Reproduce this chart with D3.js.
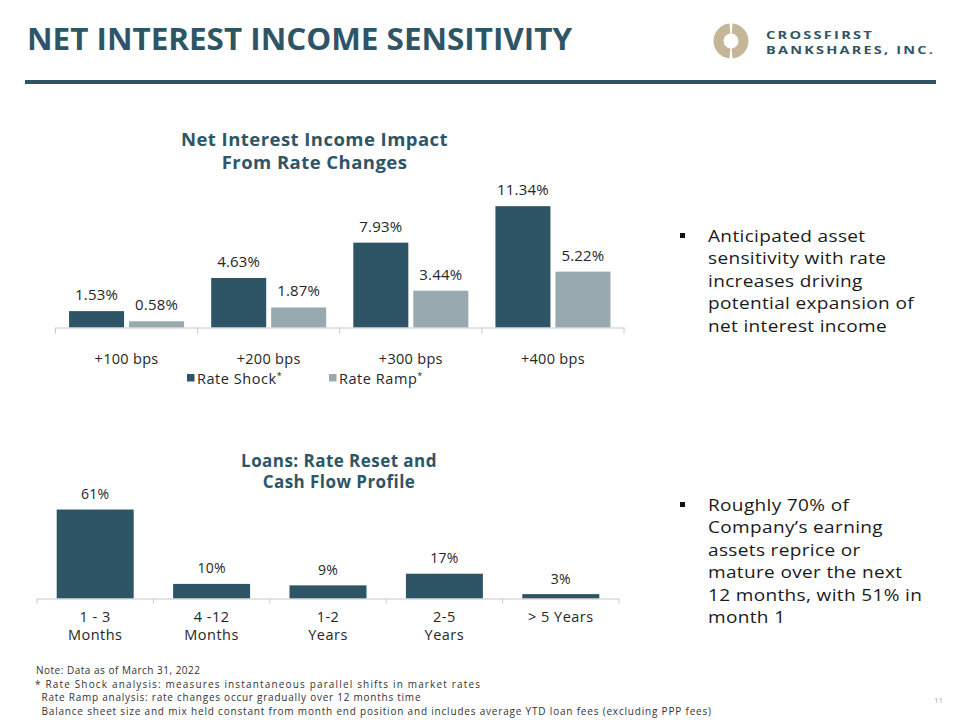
<!DOCTYPE html>
<html>
<head>
<meta charset="utf-8">
<script src="https://cdn.jsdelivr.net/npm/d3@7"></script>
<style>
  html, body { margin: 0; padding: 0; background: #ffffff; }
  svg { display: block; }
  text { font-family: "Open Sans", "Noto Sans", sans-serif; }
</style>
</head>
<body>
<div id="chart"></div>
<script>
// ---------- DATA ----------
const rateCategories = ["+100 bps", "+200 bps", "+300 bps", "+400 bps"];
const seriesNames = ["Rate Shock", "Rate Ramp"];
const rateShock = [1.53, 4.63, 7.93, 11.34];
const rateRamp = [0.58, 1.87, 3.44, 5.22];

const loanCategories = ["1 - 3\nMonths", "4 -12\nMonths", "1-2\nYears", "2-5\nYears", "> 5 Years"];
const loanValues = [61, 10, 9, 17, 3];

const pageTitle = "NET INTEREST INCOME SENSITIVITY";
const chart1Title = ["Net Interest Income Impact", "From Rate Changes"];
const chart2Title = ["Loans: Rate Reset and", "Cash Flow Profile"];
const bullet1 = ["Anticipated asset", "sensitivity with rate", "increases driving", "potential expansion of", "net interest income"];
const bullet2 = ["Roughly 70% of", "Company\u2019s earning", "assets reprice or", "mature over the next", "12 months, with 51% in", "month 1"];
const footnotes = [
  "Note: Data as of March 31, 2022",
  "* Rate Shock analysis: measures instantaneous parallel shifts in market rates",
  "Rate Ramp analysis: rate changes occur gradually over 12 months time",
  "Balance sheet size and mix held constant from month end position and includes average YTD loan fees (excluding PPP fees)"
];

// ---------- STYLE / LAYOUT ----------
const TEAL = "#2e5565";
const GRAY = "#98a9b0";
const TAN = "#c6b698";
const AXIS = "#c8c8c8";
const TXT = "#262626";
const footX = [36, 35, 41.5, 41.5];
const footEnd = [200, 480, 420.5, 711];

const svg = d3.select("#chart").append("svg")
  .attr("width", 960).attr("height", 720);
svg.append("rect").attr("width", 960).attr("height", 720).attr("fill", "#fff");

// ---------- HEADER ----------
svg.append("text")
  .attr("x", 27).attr("y", 49.5)
  .attr("font-size", 30).attr("font-weight", 700)
  .attr("fill", TEAL)
  .attr("textLength", 545).attr("lengthAdjust", "spacingAndGlyphs")
  .text(pageTitle);

svg.append("rect").attr("x", 25).attr("y", 80).attr("width", 911).attr("height", 4).attr("fill", TEAL);

// logo
const logoArc = d3.arc().innerRadius(7.5).outerRadius(17.5);
const logo = svg.append("g").attr("transform", "translate(731,41)");
logo.append("path").attr("d", logoArc({startAngle: 0.09, endAngle: Math.PI - 0.09})).attr("fill", TAN);
logo.append("path").attr("d", logoArc({startAngle: Math.PI + 0.09, endAngle: 2 * Math.PI - 0.09})).attr("fill", TAN);

svg.append("text").attr("x", 766).attr("y", 38.5)
  .attr("font-size", 10.5).attr("font-weight", 700).attr("fill", TEAL)
  .attr("letter-spacing", 1.6)
  .attr("textLength", 108).attr("lengthAdjust", "spacingAndGlyphs")
  .text("CROSSFIRST");
svg.append("text").attr("x", 766).attr("y", 53.5)
  .attr("font-size", 10.5).attr("font-weight", 700).attr("fill", TEAL)
  .attr("letter-spacing", 1.6)
  .attr("textLength", 169).attr("lengthAdjust", "spacingAndGlyphs")
  .text("BANKSHARES, INC.");

// ---------- CHART 1 ----------
const c1 = { left: 55.5, right: 624, base: 327.5 };
const x0 = d3.scaleBand().domain(rateCategories).range([c1.left, c1.right]).padding(0);
const x1 = d3.scaleBand().domain(seriesNames).range([0, x0.bandwidth()])
  .paddingInner(0.083).paddingOuter(0.226);
const y1 = d3.scaleLinear().domain([0, 12]).range([c1.base, c1.base - 128.4]);
const color1 = d3.scaleOrdinal().domain(seriesNames).range([TEAL, GRAY]);

const rows1 = rateCategories.map((c, i) => ({ cat: c, vals: [
  { s: seriesNames[0], v: rateShock[i] },
  { s: seriesNames[1], v: rateRamp[i] } ] }));

const g1 = svg.append("g");
const grp = g1.selectAll("g.grp").data(rows1).enter().append("g")
  .attr("transform", d => `translate(${x0(d.cat)},0)`);
grp.selectAll("rect").data(d => d.vals).enter().append("rect")
  .attr("x", d => x1(d.s)).attr("width", x1.bandwidth())
  .attr("y", d => y1(d.v)).attr("height", d => y1(0) - y1(d.v))
  .attr("fill", d => color1(d.s));
grp.selectAll("text.val").data(d => d.vals).enter().append("text")
  .attr("class", "val")
  .attr("x", d => x1(d.s) + x1.bandwidth() / 2)
  .attr("y", d => y1(d.v) - 11)
  .attr("text-anchor", "middle").attr("font-size", 15).attr("letter-spacing", 0.2).attr("fill", TXT)
  .text(d => d3.format(".2f")(d.v) + "%");

// axis line and category separator ticks
g1.append("line").attr("x1", c1.left).attr("x2", c1.right)
  .attr("y1", y1(0) + 0.5).attr("y2", y1(0) + 0.5).attr("stroke", AXIS);
const seps1 = rateCategories.map(c => x0(c)).concat([x0(rateCategories[rateCategories.length - 1]) + x0.bandwidth()]);
g1.selectAll("line.tk").data(seps1).enter().append("line")
  .attr("x1", d => d).attr("x2", d => d)
  .attr("y1", y1(0)).attr("y2", y1(0) + 6).attr("stroke", AXIS);
g1.selectAll("text.cat").data(rateCategories).enter().append("text")
  .attr("x", d => x0(d) + x0.bandwidth() / 2).attr("y", 363.5)
  .attr("text-anchor", "middle").attr("font-size", 14.5).attr("letter-spacing", 0.3).attr("fill", TXT)
  .text(d => d);

// title
g1.selectAll("text.ttl").data(chart1Title).enter().append("text")
  .attr("x", 314.5).attr("y", (d, i) => 146 + i * 23)
  .attr("text-anchor", "middle").attr("font-size", 18.5).attr("font-weight", 700)
  .attr("letter-spacing", 0.45)
  .attr("fill", TEAL).text(d => d);

// legend
const legX = [187, 329];
const leg = g1.selectAll("g.leg").data(seriesNames).enter().append("g")
  .attr("transform", (d, i) => `translate(${legX[i]},374)`);
leg.append("rect").attr("width", 7.5).attr("height", 7.5).attr("fill", d => color1(d));
const lt = leg.append("text").attr("x", 10).attr("y", 9.5).attr("font-size", 14.5)
  .attr("letter-spacing", 0.55).attr("fill", TXT);
lt.append("tspan").text(d => d);
lt.append("tspan").attr("dy", -5).attr("font-size", 9).text("*");

// ---------- CHART 2 ----------
const c2 = { left: 37, right: 619, base: 598.5 };
const xb = d3.scaleBand().domain(loanCategories).range([c2.left, c2.right]).padding(0);
const xbIn = d3.scaleBand().domain(["v"]).range([0, xb.bandwidth()]).paddingOuter(0.256);
const y2 = d3.scaleLinear().domain([0, 70]).range([c2.base, c2.base - 102.1]);

const g2 = svg.append("g");
g2.selectAll("rect").data(loanCategories).enter().append("rect")
  .attr("x", (d) => xb(d) + xbIn("v")).attr("width", xbIn.bandwidth())
  .attr("y", (d, i) => y2(loanValues[i])).attr("height", (d, i) => y2(0) - y2(loanValues[i]))
  .attr("fill", TEAL);
g2.selectAll("text.val").data(loanCategories).enter().append("text")
  .attr("x", d => xb(d) + xb.bandwidth() / 2)
  .attr("y", (d, i) => y2(loanValues[i]) - 10.5)
  .attr("text-anchor", "middle").attr("font-size", 14).attr("letter-spacing", 0.2).attr("fill", TXT)
  .text((d, i) => loanValues[i] + "%");
g2.append("line").attr("x1", c2.left).attr("x2", c2.right)
  .attr("y1", y2(0) + 0.5).attr("y2", y2(0) + 0.5).attr("stroke", AXIS);
const seps2 = loanCategories.map(c => xb(c)).concat([xb(loanCategories[loanCategories.length - 1]) + xb.bandwidth()]);
g2.selectAll("line.tk").data(seps2).enter().append("line")
  .attr("x1", d => d).attr("x2", d => d)
  .attr("y1", y2(0)).attr("y2", y2(0) + 5).attr("stroke", AXIS);
const cl = g2.selectAll("text.cat").data(loanCategories).enter().append("text")
  .attr("text-anchor", "middle").attr("font-size", 14.5).attr("letter-spacing", 0.5).attr("fill", TXT);
cl.each(function(d) {
  const parts = d.split("\n");
  const t = d3.select(this);
  parts.forEach((p, i) => {
    t.append("tspan").attr("x", xb(d) + xb.bandwidth() / 2).attr("y", 621.5 + i * 18).text(p);
  });
});
g2.selectAll("text.ttl").data(chart2Title).enter().append("text")
  .attr("x", 339).attr("y", (d, i) => 466.5 + i * 21)
  .attr("text-anchor", "middle").attr("font-size", 17).attr("font-weight", 700)
  .attr("letter-spacing", 0.45)
  .attr("fill", TEAL).text(d => d);

// ---------- BULLETS ----------
function bullet(lines, y0) {
  const g = svg.append("g");
  g.append("rect").attr("x", 680).attr("y", y0 - 9).attr("width", 5).attr("height", 5).attr("fill", "#111");
  const tg = g.append("g").attr("transform", "translate(708,0) scale(1.16,1)");
  tg.selectAll("text").data(lines).enter().append("text")
    .attr("x", 0).attr("y", (d, i) => y0 + i * 22.5)
    .attr("font-size", 16.4).attr("letter-spacing", 0.3).attr("fill", "#1a1a1a").text(d => d);
}
bullet(bullet1, 242);
bullet(bullet2, 511);

// ---------- FOOTNOTES ----------
svg.append("g").selectAll("text").data(footnotes).enter().append("text")
  .attr("x", (d, i) => footX[i]).attr("y", (d, i) => 674 + i * 13.6)
  .attr("font-size", 10).attr("fill", "#333")
  .attr("textLength", (d, i) => footEnd[i] - footX[i]).attr("lengthAdjust", "spacing")
  .text(d => d);

svg.append("text").attr("x", 934).attr("y", 703).attr("font-size", 8).attr("fill", "#aaa").text("11");
</script>
</body>
</html>
